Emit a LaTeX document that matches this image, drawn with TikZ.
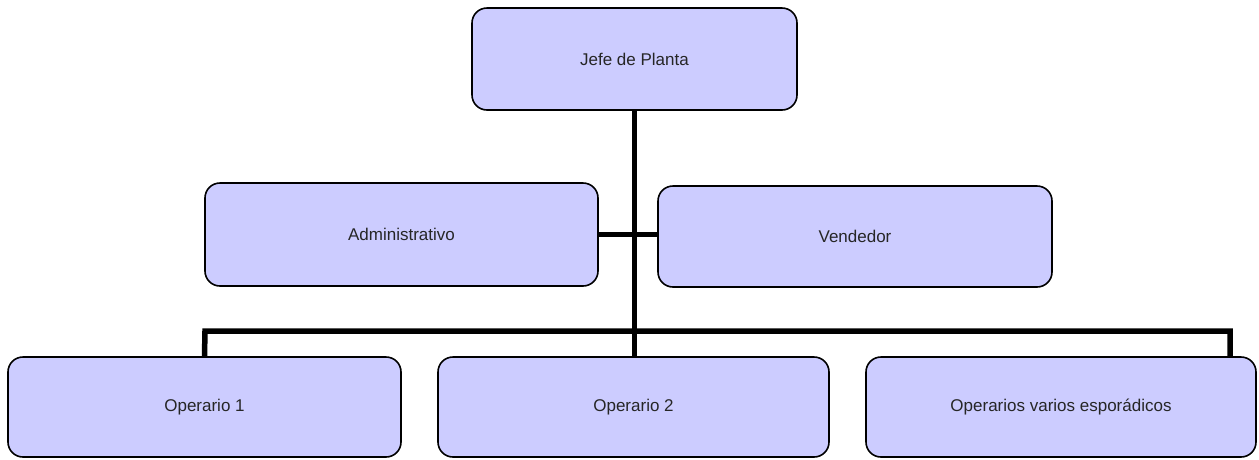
\documentclass[tikz,border=0pt]{standalone}
\usepackage{fontspec}
\setmainfont{Liberation Sans}
\usetikzlibrary{backgrounds}
\begin{document}
\begin{tikzpicture}[x=1pt,y=-1pt,
  box/.style={draw=black, line width=1.6pt, fill={rgb,255:red,204;green,204;blue,255}, rounded corners=15pt,
    inner sep=0pt, font=\fontsize{17}{20}\selectfont, text=black!85},
  conn/.style={draw=black, line width=5.5pt}]
\useasboundingbox (0,0) rectangle (1259,459);
% boxes
\node[box, minimum width=325pt, minimum height=102pt] (jefe) at (634.5,59) {Jefe de Planta};
\node[box, minimum width=393pt, minimum height=103pt] (admin) at (401.5,234.5) {Administrativo};
\node[box, minimum width=394pt, minimum height=101pt] (vend) at (855,236.5) {Vendedor};
\node[box, minimum width=393pt, minimum height=100pt] (op1) at (204.5,407) {Operario 1};
\node[box, minimum width=391pt, minimum height=100pt] (op2) at (633.5,407) {Operario 2};
\node[box, minimum width=390pt, minimum height=100pt] (opv) at (1061,407) {Operarios varios esporádicos};
% connectors
\coordinate (busL) at (205,331);
\coordinate (busR) at (1230,331);
\coordinate (dropR) at (1230,357);
\begin{scope}[on background layer]
\draw[conn] (jefe.south) -- (jefe.south |- op2.north);
\draw[conn] (admin.east) -- (vend.west |- admin.east);
\draw[conn, line join=miter] (op1.north) -- (busL) -- (busR) -- (dropR);
\end{scope}
\end{tikzpicture}
\end{document}
